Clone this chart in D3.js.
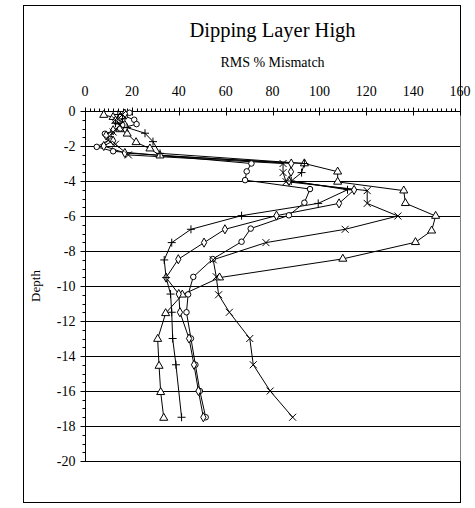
<!DOCTYPE html>
<html>
<head>
<meta charset="utf-8">
<script src="https://cdn.jsdelivr.net/npm/d3@7"></script>
<style>
  html, body { margin: 0; padding: 0; background: #fff; }
  svg { display: block; }
  text { font-family: "Liberation Serif", "Times New Roman", serif; fill: #000; }
</style>
</head>
<body>
<svg id="chart" width="475" height="508"></svg>
<script>
// ---- data (RMS % mismatch, depth) ----
const title = "Dipping Layer High";
const xTitle = "RMS % Mismatch";
const yTitle = "Depth";
const xTicks = [0, 20, 40, 60, 80, 100, 120, 140, 160];
const yTicks = [0, -2, -4, -6, -8, -10, -12, -14, -16, -18, -20];

const triangleSeries = [[8,-0.23],[12,-0.35],[14,-0.55],[17,-0.8],[15,-1.05],[18,-1.3],[21.8,-1.79],[27.7,-2.15],[32,-2.55],[93.6,-3],[107.8,-3.47],[107.8,-4.05],[136,-4.55],[136.7,-5.27],[149.6,-6],[147.9,-6.84],[141,-7.5],[110,-8.45],[57.4,-9.52],[41.5,-10.5],[34.4,-11.56],[31,-13.03],[31.6,-14.57],[32.3,-16.07],[33.6,-17.54]];
const circleSeries = [[19,-0.1],[17,-0.3],[21,-0.5],[22,-0.75],[15,-1.0],[8.5,-1.3],[11,-1.6],[5,-2.05],[12,-2.3],[71,-3],[69,-3.45],[68.3,-3.95],[96,-4.46],[93.6,-5.24],[87,-5.96],[70.7,-6.72],[66.8,-7.47],[54.5,-8.46],[46.2,-9.48],[44,-10.48],[43.3,-11.5],[45.2,-13],[47.1,-14.5],[49,-16],[51.5,-17.5]];
const diamondSeries = [[17,-0.15],[15,-0.35],[13,-0.55],[16,-0.8],[12,-1.1],[9,-1.4],[12,-1.7],[8,-2.0],[17,-2.4],[88,-3],[87.9,-3.47],[87,-4.0],[114.8,-4.51],[108.4,-5.28],[81.7,-5.98],[59.7,-6.76],[50.8,-7.52],[39.8,-8.47],[34.6,-9.52],[40,-10.46],[40.5,-11.5],[44.4,-13],[46.5,-14.5],[48.4,-16],[50.5,-17.5]];
const plusSeries = [[14,-0.2],[16,-0.45],[13,-0.7],[18,-0.95],[25.6,-1.27],[29,-1.75],[32,-2.42],[93.6,-3],[92.4,-3.52],[88,-4.0],[112,-4.5],[99.5,-5.28],[66.8,-5.98],[45.2,-6.76],[37,-7.52],[33.8,-8.51],[34.6,-9.52],[36.5,-10.46],[37,-11.5],[37.4,-13],[38.8,-14.5],[41.2,-17.5]];
const crossSeries = [[16,-0.2],[13,-0.5],[15,-0.8],[12,-1.2],[10,-1.66],[13,-1.9],[18.5,-2.51],[84.5,-3],[84.5,-3.52],[85.8,-4.04],[120.4,-4.55],[120.4,-5.28],[133.5,-6],[111,-6.76],[77.2,-7.52],[54.7,-8.5],[56,-9.47],[57,-10.5],[61.6,-11.5],[70.3,-13],[71.8,-14.5],[79,-16],[88.6,-17.5]];

const series = [
  { name: "triangle", points: triangleSeries },
  { name: "circle",   points: circleSeries },
  { name: "diamond",  points: diamondSeries },
  { name: "plus",     points: plusSeries },
  { name: "cross",    points: crossSeries }
];

// ---- layout ----
const svg = d3.select("#chart");
const L = 85, R = 460, T = 111, B = 461;
const x = d3.scaleLinear().domain([0, 160]).range([L, R]);
const y = d3.scaleLinear().domain([0, -20]).range([T, B]);

// outer frame
svg.append("rect").attr("x", 23.5).attr("y", 5.5).attr("width", 437).attr("height", 497)
  .attr("fill", "#fff").attr("stroke", "#000").attr("stroke-width", 1);

// gridlines
svg.append("g").selectAll("line").data(yTicks.filter(d => d !== 0 && d !== -20)).join("line")
  .attr("x1", L).attr("x2", R)
  .attr("y1", d => Math.round(y(d)) + 0.5).attr("y2", d => Math.round(y(d)) + 0.5)
  .attr("stroke", "#000").attr("stroke-width", 1);

// plot area right edge (grey) and bottom line
svg.append("line").attr("x1", R + 0.5).attr("x2", R + 0.5).attr("y1", T).attr("y2", B)
  .attr("stroke", "#808080");
svg.append("line").attr("x1", L).attr("x2", R).attr("y1", B + 0.5).attr("y2", B + 0.5)
  .attr("stroke", "#000");

// top axis
const minorX = d3.range(0, 160.001, 2);
const xAxis = svg.append("g").attr("transform", `translate(0,${T + 0.5})`);
xAxis.append("line").attr("x1", L).attr("x2", R).attr("stroke", "#000");
xAxis.selectAll("line.minor").data(minorX).join("line").attr("class", "minor")
  .attr("x1", d => Math.round(x(d)) + 0.5).attr("x2", d => Math.round(x(d)) + 0.5)
  .attr("y1", -3).attr("y2", 0).attr("stroke", "#000");
xAxis.selectAll("line.major").data(xTicks).join("line").attr("class", "major")
  .attr("x1", d => Math.round(x(d)) + 0.5).attr("x2", d => Math.round(x(d)) + 0.5)
  .attr("y1", -4).attr("y2", 4).attr("stroke", "#000");
xAxis.selectAll("text").data(xTicks).join("text")
  .attr("x", d => x(d)).attr("y", -16).attr("text-anchor", "middle")
  .attr("font-size", 14).text(d => d);

// left axis
const minorY = d3.range(0, -20.001, -0.5);
const yAxis = svg.append("g").attr("transform", `translate(${L + 0.5},0)`);
yAxis.append("line").attr("y1", T).attr("y2", B + 1).attr("stroke", "#000");
yAxis.selectAll("line.minor").data(minorY).join("line").attr("class", "minor")
  .attr("y1", d => Math.round(y(d)) + 0.5).attr("y2", d => Math.round(y(d)) + 0.5)
  .attr("x1", -3).attr("x2", 0).attr("stroke", "#000");
yAxis.selectAll("line.major").data(yTicks).join("line").attr("class", "major")
  .attr("y1", d => Math.round(y(d)) + 0.5).attr("y2", d => Math.round(y(d)) + 0.5)
  .attr("x1", -5).attr("x2", 3).attr("stroke", "#000");
yAxis.selectAll("text").data(yTicks).join("text")
  .attr("x", -10).attr("y", d => y(d)).attr("dy", "0.35em").attr("text-anchor", "end")
  .attr("font-size", 14).text(d => d);

// titles
svg.append("text").attr("x", (L + R) / 2).attr("y", 37).attr("text-anchor", "middle")
  .attr("font-size", 20.5).text(title);
svg.append("text").attr("x", (L + R) / 2).attr("y", 67).attr("text-anchor", "middle")
  .attr("font-size", 14).text(xTitle);
svg.append("text").attr("transform", `translate(40,${(T + B) / 2}) rotate(-90)`)
  .attr("text-anchor", "middle").attr("font-size", 13).text(yTitle);

// series lines
const line = d3.line().x(d => x(d[0])).y(d => y(d[1]));
const g = svg.append("g");
series.forEach(s => {
  g.append("path").datum(s.points).attr("d", line)
    .attr("fill", "none").attr("stroke", "#000").attr("stroke-width", 1);
});

// markers
const shapes = {
  triangle: d3.symbol().type(d3.symbolTriangle).size(28)(),
  circle: d3.symbol().type(d3.symbolCircle).size(24)(),
  diamond: d3.symbol().type(d3.symbolDiamond).size(24)(),
  plus: "M-4,0H4M0,-4V4",
  cross: "M-3.5,-3.5L3.5,3.5M-3.5,3.5L3.5,-3.5"
};
series.forEach(s => {
  g.append("g").selectAll("path").data(s.points).join("path")
    .attr("transform", d => `translate(${x(d[0])},${y(d[1])})`)
    .attr("d", shapes[s.name])
    .attr("fill", (s.name === "plus" || s.name === "cross") ? "none" : "#fff")
    .attr("stroke", "#000").attr("stroke-width", 1);
});
</script>
</body>
</html>
